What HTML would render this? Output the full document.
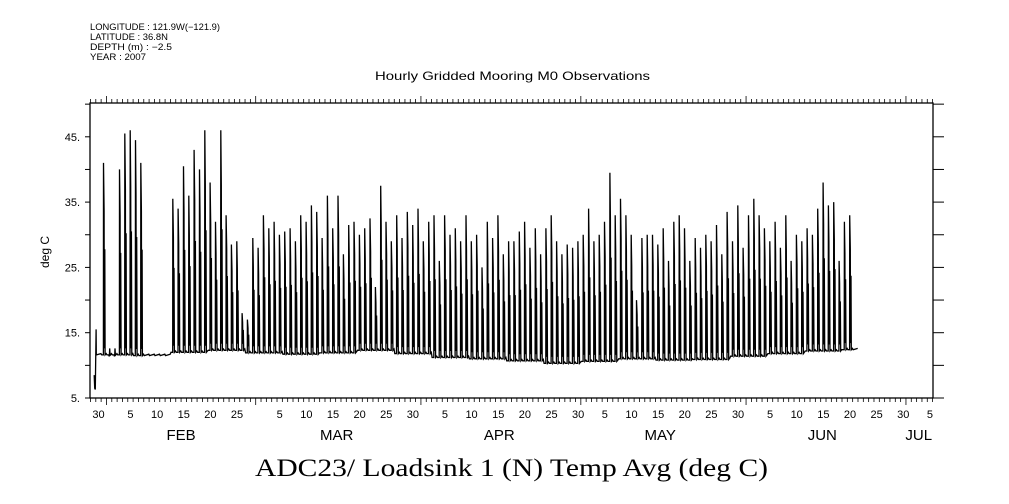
<!DOCTYPE html>
<html><head><meta charset="utf-8"><style>
html,body{margin:0;padding:0;background:#fff;}
svg{display:block;}
text{font-family:"Liberation Sans",sans-serif;fill:#000;}
</style></head><body>
<svg id="chart" width="1009" height="504" viewBox="0 0 1009 504">
<g font-size="9">
<text x="90" y="30" textLength="130" lengthAdjust="spacingAndGlyphs">LONGITUDE : 121.9W(−121.9)</text>
<text x="90" y="40" textLength="78" lengthAdjust="spacingAndGlyphs">LATITUDE : 36.8N</text>
<text x="90" y="50" textLength="82" lengthAdjust="spacingAndGlyphs">DEPTH (m) : −2.5</text>
<text x="90" y="60" textLength="56" lengthAdjust="spacingAndGlyphs">YEAR : 2007</text>
</g>
<text x="375" y="80" textLength="275" lengthAdjust="spacingAndGlyphs" font-size="12">Hourly Gridded Mooring M0 Observations</text>
<text x="255" y="476" textLength="513" lengthAdjust="spacingAndGlyphs" font-size="25" style="font-family:'Liberation Serif',serif">ADC23/ Loadsink 1 (N) Temp Avg (deg C)</text>
<text transform="translate(49,252) rotate(-90)" text-anchor="middle" font-size="12">deg C</text>
<g id="axes"></g>
<g id="series"></g>
</svg>
<script>
// Daily peak temperatures, Jan 30 .. Jun 21 2007 (0 = no daytime spike)
const peaksJanFeb = [0,41, 11.5,11.5,40,45.5,46,44.5,41,0,0,0,0,0,35.5,34,40.5,36,43,40,46,38,32,46,33,28.5,29,18,17,29.5];
const peaksMar = [28,33,31,32,30,30.5,31,29,33,32,34.5,33.5,29.5,36,31,36,27,31.5,32,30,31,32.5,22,37.5,32,29,33,29.5,33.5,31.5,34];
const peaksApr = [29,32,33,26,33,30,31,29,33,29,30,25,32,29.5,33,27,29,29,30.5,32,28,31,27,31,33,29,27,28.5,28,29];
const peaksMay = [30,34,29,30,32,39.5,33,35.5,33,30,20,29.5,30,30,28.5,31,26,32,33,31,26,29.5,28,30,29,31.5,27,33.5,29,34.5,28];
const peaksJun = [33,35.5,33,31,29,32,28,33,26,30,29,31,30,34,38,34.5,35,26,32,33,0];
// Weekly baseline (night) temperature starting Jan 30
const baseWeekly = [11.6,11.5,12.0,12.3,11.9,11.7,11.9,12.3,11.8,11.2,11.0,10.7,10.3,10.6,11.0,10.8,10.9,11.4,11.8,12.2,12.4];
const yTicks = [5,15,25,35,45];
const monthNames = ["FEB","MAR","APR","MAY","JUN","JUL"];
const monthStartDays = [2,30,61,91,122,152]; // days since Jan 30
const monthLengths = [28,31,30,31,30,31];
const monthLabelOffsets = [14,15.2,14.7,14.9,14.3,2.4];

const peaks = [].concat(peaksJanFeb,peaksMar,peaksApr,peaksMay,peaksJun);
const L=90,R=933,T=103,B=398;
const xs = d => 95.8 + 5.33*d;
const ys = v => B - (v-5)*6.53;
const NS="http://www.w3.org/2000/svg";
const ax=document.getElementById('axes');
function mk(tag,attrs,parent){const e=document.createElementNS(NS,tag);for(const k in attrs)e.setAttribute(k,attrs[k]);parent.appendChild(e);return e;}

let r=mk('rect',{x:L,y:T,width:R-L,height:B-T,fill:'none',stroke:'#000','stroke-width':1.3},ax);


for(let v=5;v<=50;v+=5){
  const y=ys(v);
  let t=mk('line',{x1:L-5,x2:L,y1:y,y2:y,stroke:'#000'},ax);
  
  
  let t2=mk('line',{x1:R,x2:R+11,y1:y,y2:y,stroke:'#000'},ax);
  
  
}
yTicks.forEach(v=>{
  let t=mk('text',{x:L-10,y:ys(v)+4,'text-anchor':'end','font-size':11},ax);
  t.textContent=v+'.';
  
  
});
const starts=new Set(monthStartDays);
for(let d=-1;d<=158;d++){
  const x=xs(d); if(x<L||x>R) continue;
  const big=starts.has(d);
  let t=mk('line',{x1:x,x2:x,y1:T,y2:T-(big?7:4),stroke:'#000','stroke-width':0.8},ax);
  
  
  let b=mk('line',{x1:x,x2:x,y1:B,y2:B+(big?7:4),stroke:'#000','stroke-width':0.8},ax);
  
  
}
function dayLabel(d,txt){
  let t=mk('text',{x:xs(d+0.5),y:418,'text-anchor':'middle','font-size':11},ax);
  t.textContent=txt;
  
  
}
dayLabel(0,'30');
monthStartDays.forEach((s,i)=>{
  for(let dd=5;dd<=monthLengths[i];dd+=5){const d=s+dd-1; if(xs(d)<R) dayLabel(d,String(dd));}
  let t=mk('text',{x:xs(s+monthLabelOffsets[i]),y:440,'text-anchor':'middle','font-size':15},ax);
  t.textContent=monthNames[i];
  
  
});
let pts=[[xs(-0.3),ys(8.5)],[xs(-0.2),ys(6.5)],[xs(-0.1),ys(6.3)],[xs(0.05),ys(15.5)],[xs(0.1),ys(11.6)]];
peaks.forEach((p,d)=>{
  const b=baseWeekly[Math.min(baseWeekly.length-1,Math.floor(d/7))];
  pts.push([xs(d+0.1),ys(b)]);
  if(p>0){
    pts.push([xs(d+0.42),ys(b)]);
    pts.push([xs(d+0.45),ys(p)]);
    pts.push([xs(d+0.55),ys(p*0.75+b*0.25)]);
    pts.push([xs(d+0.6),ys(b+1)]);
    pts.push([xs(d+0.68),ys(b+(p-b)*0.55)]);
    pts.push([xs(d+0.75),ys(b)]);
  }
  pts.push([xs(d+0.95),ys(b+0.2)]);
});
const sg=document.getElementById('series');
let pl=mk('polyline',{points:pts.map(p=>p[0].toFixed(1)+','+p[1].toFixed(1)).join(' '),fill:'none',stroke:'#000','stroke-width':1.3},sg);


</script>
</body></html>
